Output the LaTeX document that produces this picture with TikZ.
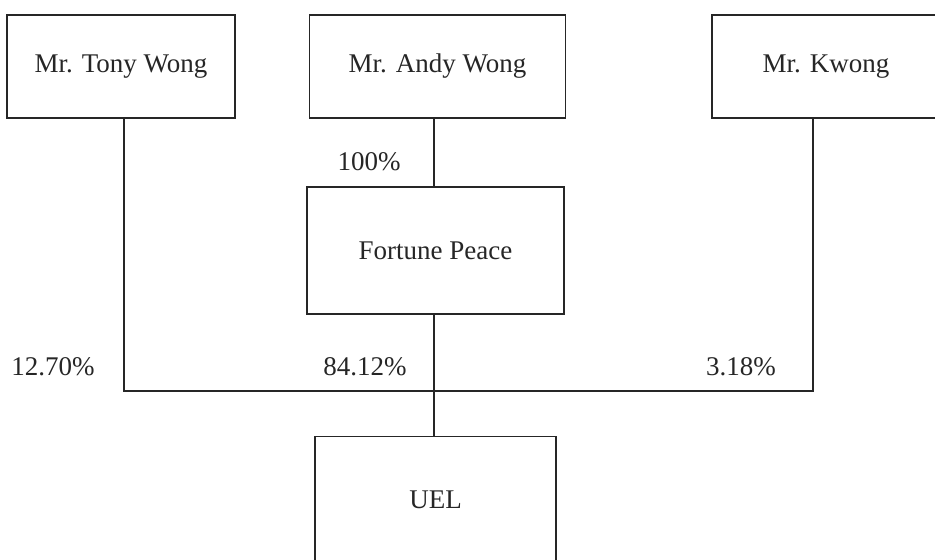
\documentclass[tikz,border=0pt]{standalone}
\usepackage{fontspec}
\setmainfont{Liberation Serif}

\begin{document}
\begin{tikzpicture}[x=0.5pt, y=-0.5pt, line width=0.65pt,
  box/.style = {draw=black!85, shape=rectangle, align=center,
    inner sep=0pt, font=\fontsize{13.5}{16}\selectfont, text=black!85},
  pct/.style = {inner sep=0pt, font=\fontsize{13.5}{16}\selectfont, text=black!85}]
  \useasboundingbox (0,0) rectangle (935,559);
  \node[box, minimum width=114pt, minimum height=51.5pt] (tony) at (121,66.5) {Mr. Tony Wong};
  \node[box, minimum width=128pt, minimum height=51.5pt] (andy) at (437.5,66.5) {Mr. Andy Wong};
  \node[box, minimum width=114pt, minimum height=51.5pt] (kwong) at (826,66.5) {Mr. Kwong};
  \node[box, minimum width=128.5pt, minimum height=63.5pt] (fortune) at (435.5,250.5) {Fortune Peace};
  \node[box, minimum width=120.5pt, minimum height=63.5pt] (uel) at (435.5,500) {UEL};
  \coordinate (jtony) at (124,391);
  \coordinate (jmid) at (434,391);
  \coordinate (jkwong) at (813,391);
  \draw[black!85] (andy.south -| jmid) -- (fortune.north -| jmid);
  \draw[black!85] (jtony |- tony.south) -- (jtony) -- (jkwong) -- (jkwong |- kwong.south);
  \draw[black!85] (fortune.south -| jmid) -- (uel.north -| jmid);
  \node[pct] (p100) at (369,162) {100\%};
  \node[pct] (p1270) at (53,367) {12.70\%};
  \node[pct] (p8412) at (365,367) {84.12\%};
  \node[pct] (p318) at (741,367) {3.18\%};
\end{tikzpicture}
\end{document}
